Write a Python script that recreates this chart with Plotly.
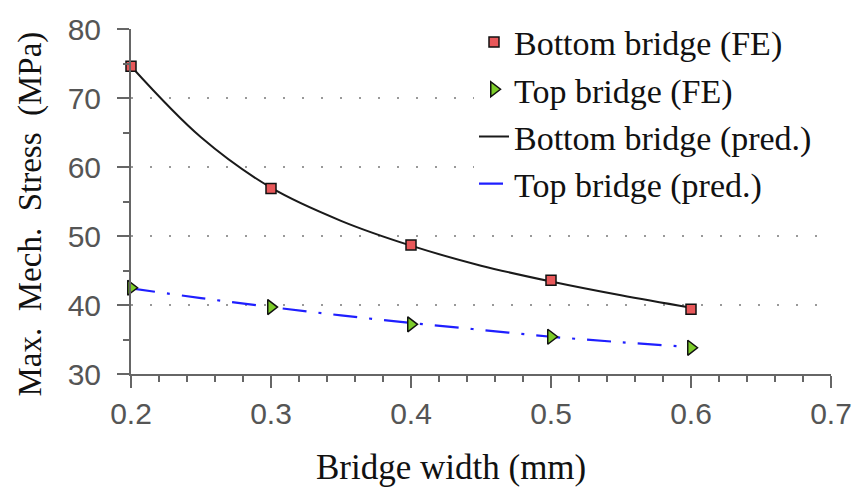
import plotly.graph_objects as go

width_mm = [0.2, 0.3, 0.4, 0.5, 0.6]
bottom_fe = [74.6, 56.9, 48.7, 43.6, 39.4]
top_fe = [42.5, 39.7, 37.2, 35.4, 33.8]

pred_width = [0.2, 0.25, 0.3, 0.35, 0.4, 0.45, 0.5, 0.55, 0.6]
bottom_pred = [74.6, 64.3, 57.0, 52.2, 48.6, 45.7, 43.4, 41.4, 39.6]
top_pred = [42.4, 41.0, 39.7, 38.5, 37.4, 36.4, 35.4, 34.6, 33.9]

x_ticks = [0.2, 0.3, 0.4, 0.5, 0.6, 0.7]
y_ticks = [30, 40, 50, 60, 70, 80]

x_title = "Bridge width (mm)"
y_title = "Max.  Mech.  Stress  (MPa)"

serif = '"Liberation Serif", "Times New Roman", serif'
sans = '"Liberation Sans", Arial, sans-serif'

fig = go.Figure()
fig.add_trace(go.Scatter(x=pred_width, y=bottom_pred, mode="lines", name="Bottom bridge (pred.)",
                         line=dict(color="#1a1a1a", width=2, shape="spline", smoothing=1),
                         legendrank=3, legendgroup="c"))
fig.add_trace(go.Scatter(x=pred_width, y=top_pred, mode="lines", name="Top bridge (pred.)",
                         line=dict(color="#1f1fff", width=2.2, dash="24px,12px,3px,12px", shape="spline"),
                         legendrank=4, legendgroup="d"))
fig.add_trace(go.Scatter(x=width_mm, y=bottom_fe, mode="markers", name="Bottom bridge (FE)",
                         marker=dict(symbol="square", size=10, color="#e8585a", line=dict(color="#111", width=1.5)),
                         cliponaxis=False, legendrank=1, legendgroup="a"))
fig.add_trace(go.Scatter(x=width_mm, y=top_fe, mode="markers", name="Top bridge (FE)",
                         marker=dict(symbol="triangle-right", size=13, color="#7ccc2a", line=dict(color="#111", width=1.5)),
                         cliponaxis=False, legendrank=2, legendgroup="b"))

fig.update_layout(
    width=864, height=498,
    margin=dict(l=131, r=26, t=21, b=124),
    plot_bgcolor="white", paper_bgcolor="white",
    showlegend=True,
    legend=dict(x=0.49, y=1.045, xanchor="left", yanchor="top", bgcolor="white",
                font=dict(family=serif, size=34, color="#111"), tracegroupgap=0,
                traceorder="normal"),
    xaxis=dict(range=[0.2, 0.7], tickvals=x_ticks, ticktext=[f"{v:.1f}" for v in x_ticks],
               showgrid=False, zeroline=False, showline=True, linecolor="#666", linewidth=2,
               ticks="outside", ticklen=12, tickwidth=2, tickcolor="#666",
               minor=dict(dtick=0.02, ticks="outside", ticklen=6, tickwidth=2, tickcolor="#666", showgrid=False),
               tickfont=dict(family=sans, size=30, color="#555")),
    yaxis=dict(range=[30, 80], tickvals=y_ticks, ticklabelstandoff=10,
               showgrid=True, gridcolor="#999", gridwidth=2, griddash="2px,17px",
               zeroline=False, showline=True, linecolor="#666", linewidth=2,
               ticks="outside", ticklen=12, tickwidth=2, tickcolor="#666",
               minor=dict(dtick=5, ticks="outside", ticklen=6, tickwidth=2, tickcolor="#666", showgrid=False),
               tickfont=dict(family=sans, size=30, color="#555")),
    annotations=[
        dict(text=x_title, xref="paper", yref="paper", x=0.457, y=-0.272, xanchor="center", yanchor="middle",
             showarrow=False, font=dict(family=serif, size=35, color="#111")),
        dict(text=y_title, xref="paper", yref="paper", x=-0.143, y=0.465, xanchor="center", yanchor="middle",
             textangle=-90, showarrow=False, font=dict(family=serif, size=33, color="#111")),
    ],
)

fig.write_html("out.html")
